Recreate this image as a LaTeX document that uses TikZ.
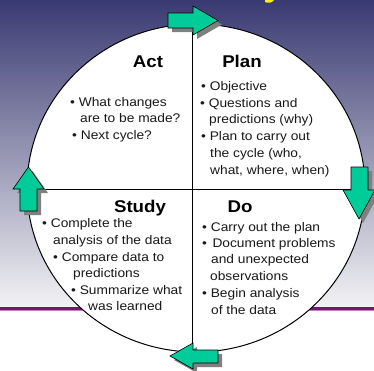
\documentclass[tikz,border=0pt]{standalone}
\usepackage{fontspec}
\setmainfont[FakeStretch=1.1]{Liberation Sans}
\definecolor{bgtop}{RGB}{58,58,115}
\definecolor{bgbot}{RGB}{242,242,244}
\definecolor{purpleline}{RGB}{120,20,120}
\definecolor{purplelight}{RGB}{190,130,190}
\definecolor{cyclegreen}{RGB}{0,204,153}
\begin{document}
\begin{tikzpicture}[x=1pt,y=-1pt,
  body/.style={anchor=base west,inner sep=0pt,font=\fontsize{12.5}{15}\selectfont,text=black!90},
  head/.style={anchor=base,inner sep=0pt,font=\fontsize{17}{20}\selectfont\bfseries,text=black},
  cyclearrow/.style={fill=cyclegreen,draw=black,line width=0.6pt,line join=miter},
  arrowshadow/.style={fill=black!50}]
\useasboundingbox (0,0) rectangle (374,370);
\begin{scope}
\clip (0,0) rectangle (374,370);
% background
\fill[white] (0,0) rectangle (374,370);
\shade[top color=bgtop,bottom color=bgbot] (0,0) rectangle (374,307);
\draw[line width=2.5pt,purpleline] (0,308.5) -- (374,308.5);
\draw[line width=1pt,purplelight] (0,310.5) -- (374,310.5);
\fill[yellow] (265,0) -- (274,0) .. controls (272,3) and (268,3.5) .. (265,2) -- cycle;
% circle
\draw[fill=white,line width=1pt] (196,188) ellipse [x radius=169,y radius=164];
\coordinate (vt) at (192,20);
\coordinate (vb) at (192,350);
\coordinate (hl) at (27,189);
\coordinate (hr) at (365,189);
\draw[line width=1pt] (vt) -- (vb);
\draw[line width=1pt] (hl) -- (hr);
% arrows: shadows
\begin{scope}[shift={(4,4)}]
\fill[arrowshadow] (168,13) -- (193,13) -- (193,6) -- (218,20.5) -- (193,35) -- (193,28) -- (168,28) -- cycle;
\fill[arrowshadow] (351,167) -- (368,167) -- (368,190) -- (375,190) -- (359,219) -- (343,190) -- (351,190) -- cycle;
\fill[arrowshadow] (20,211) -- (20,189) -- (13,189) -- (28.5,167) -- (44,189) -- (37,189) -- (37,211) -- cycle;
\fill[arrowshadow] (218,350) -- (193,350) -- (193,343) -- (170,356) -- (193,369) -- (193,363) -- (218,363) -- cycle;
\end{scope}
% arrows
\draw[cyclearrow] (168,13) -- (193,13) -- (193,6) -- (218,20.5) -- (193,35) -- (193,28) -- (168,28) -- cycle;
\draw[cyclearrow] (351,167) -- (368,167) -- (368,190) -- (375,190) -- (359,219) -- (343,190) -- (351,190) -- cycle;
\draw[cyclearrow] (20,211) -- (20,189) -- (13,189) -- (28.5,167) -- (44,189) -- (37,189) -- (37,211) -- cycle;
\draw[cyclearrow] (218,350) -- (193,350) -- (193,343) -- (170,356) -- (193,369) -- (193,363) -- (218,363) -- cycle;
\end{scope}
% Act
\node[head] (act) at (148,67) {Act};
\node[body] (act1) at (70,106) {• What changes};
\node[body] (act2) at (80,122) {are to be made?};
\node[body] (act3) at (72,139) {• Next cycle?};
% Plan
\node[head] (plan) at (242,67) {Plan};
\node[body] (plan1) at (201,90) {• Objective};
\node[body] (plan2) at (200,107) {• Questions and};
\node[body] (plan3) at (209,123) {predictions (why)};
\node[body] (plan4) at (201,140) {• Plan to carry out};
\node[body] (plan5) at (210,157) {the cycle (who,};
\node[body] (plan6) at (210,174) {what, where, when)};
% Study
\node[head] (study) at (140,212) {Study};
\node[body] (study1) at (42,227) {• Complete the};
\node[body] (study2) at (53,244) {analysis of the data};
\node[body] (study3) at (53,261) {• Compare data to};
\node[body] (study4) at (73,277) {predictions};
\node[body] (study5) at (71,294) {• Summarize what};
\node[body] (study6) at (88,310) {was learned};
% Do
\node[head] (do) at (240,212) {Do};
\node[body] (do1) at (202,231) {• Carry out the plan};
\node[body] (do2) at (202,247) {•\hspace{5.5pt}Document problems};
\node[body] (do3) at (211,263) {and unexpected};
\node[body] (do4) at (210,280) {observations};
\node[body] (do5) at (202,297) {• Begin analysis};
\node[body] (do6) at (211,314) {of the data};
\end{tikzpicture}
\end{document}
